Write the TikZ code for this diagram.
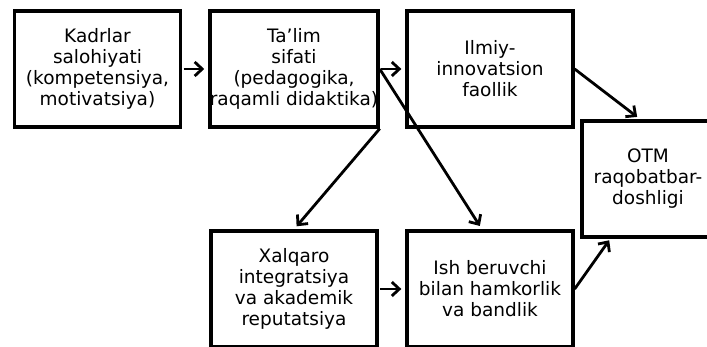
\documentclass[tikz,border=0pt]{standalone}
\usepackage{fontspec}
\setmainfont{DejaVu Sans}
\usetikzlibrary{arrows.meta,calc}
\begin{document}
\begin{tikzpicture}[x=1pt,y=-1pt,
  box/.style={draw=black,line width=3.3pt,minimum width=166pt,minimum height=116pt,inner sep=0pt,align=center,
    font=\fontsize{18.5}{21}\selectfont},
  txt/.style={align=center,font=\fontsize{18.5}{21}\selectfont,inner sep=0pt},
  arr/.style={line width=2.8pt,-{Straight Barb[length=7.5pt,width=14pt,line width=2.8pt]}}]
\useasboundingbox (0,0) rectangle (707,347);
\node[box] (b1) at (97.5,69) {Kadrlar\\salohiyati\\(kompetensiya,\\motivatsiya)};
\node[box] (b2) at (294,69) {Ta’lim\\sifati\\(pedagogika,\\raqamli didaktika)};
\node[box] (b3) at (490,69) {Ilmiy-\\innovatsion\\faollik};
\node[box] (b5) at (294,289) {Xalqaro\\integratsiya\\va akademik\\reputatsiya};
\node[box] (b6) at (490,289) {Ish beruvchi\\bilan hamkorlik\\va bandlik};
\node[box] (otm) at (665,179) {};
\node[txt] (otmtext) at (648,179) {OTM\\raqobatbar-\\doshligi};
\coordinate (t6) at ($(b6.north)+(-8,0)$);
\coordinate (t4a) at ($(otm.north west)+(60,0)$);
\coordinate (t4b) at ($(otm.south west)+(30,0)$);
\draw[arr,shorten <=1.5pt,shorten >=4pt] (b1.east) -- (b2.west);
\draw[arr,shorten <=1.5pt,shorten >=4pt] (b2.east) -- (b3.west);
\draw[arr,shorten <=1.5pt,shorten >=4pt] (b5.east) -- (b6.west);
\draw[arr,shorten >=4pt] (b2.south east) -- (b5.north);
\draw[arr,shorten >=4pt] (b2.east) -- (t6);
\draw[arr,shorten >=4pt] (b3.east) -- (t4a);
\draw[arr,shorten >=2pt] (b6.east) -- (t4b);
\end{tikzpicture}
\end{document}
